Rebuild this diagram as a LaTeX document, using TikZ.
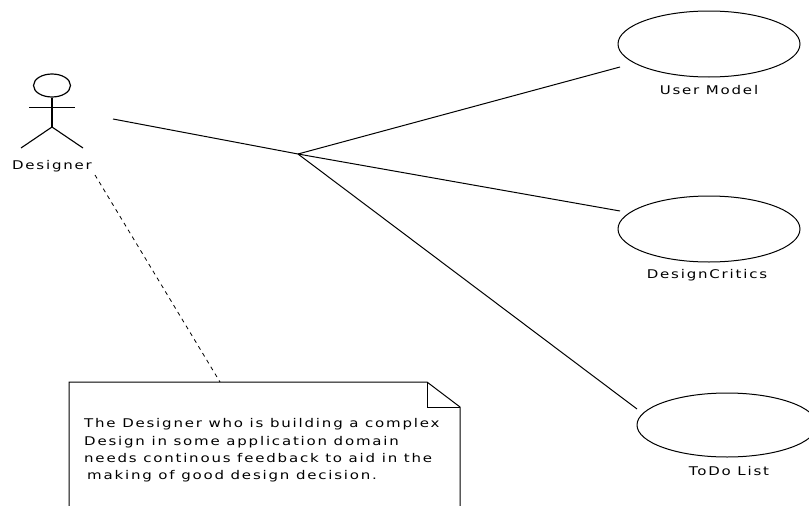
\documentclass[tikz,border=0pt]{standalone}
\usepackage{fontspec}
\setmainfont[LetterSpace=15,FakeStretch=1.25]{DejaVu Sans}
\usetikzlibrary{shapes.geometric}
\tikzset{
  x=1pt,y=-1pt,
  usecase/.style={ellipse,draw=black,line width=1pt,minimum width=182pt,minimum height=66pt,inner sep=0pt},
  lbl/.style={font=\fontsize{12}{14}\selectfont,inner sep=0pt,text=black},
  wire/.style={draw=black,line width=1pt},
  notetxt/.style={font=\fontsize{12}{17.3}\selectfont,inner sep=0pt,align=left,anchor=north west,text=black}
}
\begin{document}
\begin{tikzpicture}
\useasboundingbox (0,0) rectangle (809,506);
\clip (0,0) rectangle (809,506);
% use cases
\node[usecase] (um) at (709,44) {};
\node[usecase] (dc) at (709,229) {};
\node[usecase,minimum height=64pt,minimum width=180pt] (td) at (727,425) {};
\node[lbl] (uml) at (709,90) {User Model};
\node[lbl] (dcl) at (707,275) {DesignCritics};
\node[lbl] (tdl) at (729,471) {ToDo List};
% actor
\node[ellipse,draw=black,line width=1.2pt,minimum width=37pt,minimum height=23pt,inner sep=0pt] (head) at (52,85.5) {};
\coordinate (hip) at (52,127);
\coordinate (armL) at (29,107.5);
\coordinate (armR) at (75,107.5);
\coordinate (legL) at (21,148);
\coordinate (legR) at (83,148);
\draw[wire,line width=1.3pt] (head.south) -- (hip);
\draw[wire,line width=1.3pt] (armL) -- (armR);
\draw[wire,line width=1.1pt] (legL) -- (hip) -- (legR);
\node[lbl] (des) at (52,166) {Designer};
% connectors
\coordinate (j) at (298,154);
\coordinate (a) at (113,119);
\coordinate (umE) at (620,67);
\coordinate (dcE) at (620,211);
\coordinate (tdE) at (637,409);
\draw[wire] (a) -- (j);
\draw[wire] (j) -- (umE);
\draw[wire] (j) -- (dcE);
\draw[wire] (j) -- (tdE);
% note
\coordinate (nTL) at (69,382);
\coordinate (nF) at (427,382);
\coordinate (nFb) at (427,407);
\coordinate (nR) at (460,407);
\coordinate (nBL) at (69,506);
\coordinate (nBR) at (460,506);
\coordinate (nA) at (220,382);
\draw[wire] (nBL) -- (nTL) -- (nF) -- (nR) -- (nBR);
\draw[wire] (nF) -- (nFb) -- (nR);
\coordinate (dS) at (95,175);
\draw[wire,line width=.8pt,dash pattern=on 4pt off 4pt] (dS) -- (nA);
\node[notetxt] (txt) at (84,418.5) {The Designer who is building a complex\\Design in some application domain\\needs continous feedback to aid in the\\\hspace*{3pt}making of good design decision.};
\end{tikzpicture}
\end{document}
